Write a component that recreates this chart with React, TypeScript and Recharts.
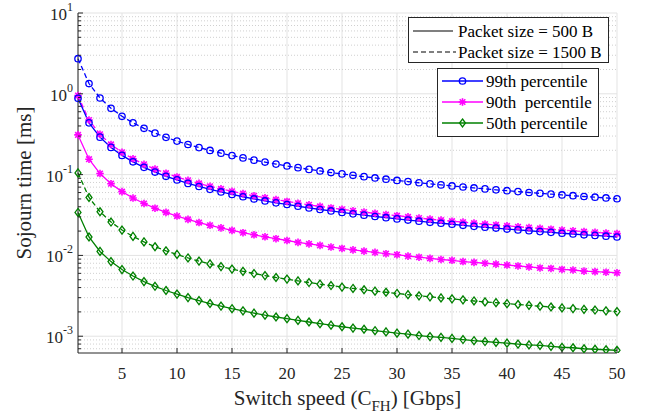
import { CartesianGrid, Legend, Line, LineChart, ReferenceLine, XAxis, YAxis } from "recharts";

const speeds = [
  1, 2, 3, 4, 5, 6, 7, 8, 9, 10, 11, 12, 13, 14, 15, 16, 17, 18, 19, 20, 21, 22, 23, 24, 25,
  26, 27, 28, 29, 30, 31, 32, 33, 34, 35, 36, 37, 38, 39, 40, 41, 42, 43, 44, 45, 46, 47, 48, 49, 50,
];

// 99th percentile, 1500 B
const p99Large = [
  2.72, 1.34, 0.887, 0.662, 0.527, 0.437, 0.374, 0.326, 0.289, 0.26, 0.236, 0.216, 0.199, 0.184,
  0.172, 0.161, 0.151, 0.143, 0.135, 0.128, 0.122, 0.116, 0.111, 0.106, 0.102, 0.098, 0.0943,
  0.0909, 0.0877, 0.0847, 0.0819, 0.0793, 0.0768, 0.0746, 0.0724, 0.0703, 0.0684, 0.0666, 0.0648,
  0.0632, 0.0616, 0.0601, 0.0587, 0.0573, 0.056, 0.0548, 0.0536, 0.0525, 0.0514, 0.0503,
];
// 99th percentile, 500 B
const p99Small = [
  0.88, 0.437, 0.291, 0.217, 0.173, 0.144, 0.123, 0.1075, 0.0953, 0.086, 0.0779, 0.0713, 0.0657,
  0.061, 0.0568, 0.0532, 0.05, 0.0472, 0.0447, 0.0427, 0.0406, 0.0387, 0.037, 0.0355, 0.034,
  0.0327, 0.0315, 0.0303, 0.0293, 0.0283, 0.0274, 0.0265, 0.0257, 0.025, 0.0243, 0.0236, 0.0229,
  0.0223, 0.0218, 0.0212, 0.0207, 0.0202, 0.0197, 0.0193, 0.0188, 0.0184, 0.018, 0.0177, 0.0173,
  0.0169,
];
// 90th percentile, 1500 B
const p90Large = [
  0.95, 0.474, 0.315, 0.236, 0.189, 0.157, 0.134, 0.117, 0.104, 0.0935, 0.0849, 0.0778, 0.0717,
  0.0666, 0.0621, 0.0582, 0.0547, 0.0517, 0.049, 0.0465, 0.0443, 0.0423, 0.0404, 0.0387, 0.0372,
  0.0357, 0.0344, 0.0332, 0.032, 0.031, 0.03, 0.029, 0.0281, 0.0273, 0.0265, 0.0258, 0.0251,
  0.0244, 0.0238, 0.0232, 0.0226, 0.0221, 0.0216, 0.0211, 0.0206, 0.0202, 0.0197, 0.0193, 0.0189,
  0.0186,
];
// 90th percentile, 500 B
const p90Small = [
  0.31, 0.155, 0.103, 0.0772, 0.0616, 0.0513, 0.0439, 0.0384, 0.0341, 0.0307, 0.0279, 0.0255,
  0.0236, 0.0219, 0.0204, 0.0191, 0.018, 0.017, 0.0161, 0.0153, 0.0145, 0.0139, 0.0133, 0.0127,
  0.0122, 0.0117, 0.0113, 0.0109, 0.0105, 0.0102, 0.0098, 0.0095, 0.0092, 0.0089, 0.0087, 0.0084,
  0.0082, 0.008, 0.0078, 0.0076, 0.0074, 0.0072, 0.007, 0.0069, 0.0067, 0.0066, 0.0064, 0.0063,
  0.0062, 0.0061,
];
// 50th percentile, 1500 B
const p50Large = [
  0.105, 0.0521, 0.0347, 0.0259, 0.0206, 0.0172, 0.0147, 0.0128, 0.0114, 0.0103, 0.0093, 0.0085,
  0.00784, 0.00728, 0.00678, 0.00635, 0.00597, 0.00563, 0.00533, 0.00509, 0.00484, 0.00462,
  0.00441, 0.00424, 0.00406, 0.0039, 0.00376, 0.00361, 0.0035, 0.00338, 0.00327, 0.00316, 0.00307,
  0.00298, 0.0029, 0.00282, 0.00273, 0.00266, 0.0026, 0.00253, 0.00247, 0.00241, 0.00235, 0.0023,
  0.00224, 0.0022, 0.00215, 0.00211, 0.00206, 0.00202,
];
// 50th percentile, 500 B
const p50Small = [
  0.034, 0.0169, 0.0112, 0.00838, 0.00668, 0.00556, 0.00475, 0.00415, 0.00368, 0.00332, 0.00301,
  0.00276, 0.00254, 0.00236, 0.00219, 0.00206, 0.00193, 0.00182, 0.00173, 0.00165, 0.00157,
  0.0015, 0.00143, 0.00137, 0.00131, 0.00126, 0.00122, 0.00117, 0.00113, 0.00109, 0.00106,
  0.00102, 0.00099, 0.00097, 0.00094, 0.00091, 0.00088, 0.00086, 0.00084, 0.00082, 0.0008,
  0.00078, 0.00077, 0.00075, 0.00073, 0.00072, 0.0007, 0.00069, 0.00068, 0.00067,
];

const xTicks = [5, 10, 15, 20, 25, 30, 35, 40, 45, 50];
const decadeTicks = [0.001, 0.01, 0.1, 1, 10];
const minorTicks = [
  0.0007, 0.0008, 0.0009,
  0.002, 0.003, 0.004, 0.005, 0.006, 0.007, 0.008, 0.009,
  0.02, 0.03, 0.04, 0.05, 0.06, 0.07, 0.08, 0.09,
  0.2, 0.3, 0.4, 0.5, 0.6, 0.7, 0.8, 0.9,
  2, 3, 4, 5, 6, 7, 8, 9,
];
const allYTicks = [...minorTicks, ...decadeTicks].sort((a, b) => a - b);

const data = speeds.map((s, i) => ({
  speed: s,
  p99Large: p99Large[i],
  p99Small: p99Small[i],
  p90Large: p90Large[i],
  p90Small: p90Small[i],
  p50Large: p50Large[i],
  p50Small: p50Small[i],
}));

const SERIF = '"Liberation Serif", "Times New Roman", serif';
const AXIS = "#262626";
const BLUE = "#0000ff";
const MAGENTA = "#ff00ff";
const GREEN = "#008000";
const DASH = "5 3";

function circleDot(color: string) {
  return (p: any) => (
    <circle key={`c${p.index}`} cx={p.cx} cy={p.cy} r={3.2} fill="none" stroke={color} strokeWidth={1.3} />
  );
}

function starDot(color: string) {
  return (p: any) => {
    const { cx, cy } = p;
    const r = 3.8;
    const d = 2.8;
    return (
      <g key={`s${p.index}`} stroke={color} strokeWidth={1.6}>
        <line x1={cx - r} x2={cx + r} y1={cy} y2={cy} />
        <line x1={cx} x2={cx} y1={cy - r} y2={cy + r} />
        <line x1={cx - d} x2={cx + d} y1={cy - d} y2={cy + d} />
        <line x1={cx - d} x2={cx + d} y1={cy + d} y2={cy - d} />
      </g>
    );
  };
}

function diamondDot(color: string) {
  return (p: any) => {
    const { cx, cy } = p;
    return (
      <path
        key={`d${p.index}`}
        d={`M${cx},${cy - 4} L${cx + 3},${cy} L${cx},${cy + 4} L${cx - 3},${cy} Z`}
        fill="none"
        stroke={color}
        strokeWidth={1.3}
      />
    );
  };
}

function LeftTick({ x, y, payload }: any) {
  const v = payload.value;
  const major = decadeTicks.includes(v);
  const exp = Math.round(Math.log10(v));
  return (
    <g>
      <line x1={x} x2={x + (major ? 5 : 3)} y1={y} y2={y} stroke={AXIS} />
      {major && (
        <text x={x - 5} y={y + 7} textAnchor="end" fontFamily={SERIF} fontSize={17} fill={AXIS}>
          10<tspan dy={-9} fontSize={12}>{exp}</tspan>
        </text>
      )}
    </g>
  );
}

function RightTick({ x, y, payload }: any) {
  const major = decadeTicks.includes(payload.value);
  return <line x1={x} x2={x - (major ? 5 : 3)} y1={y} y2={y} stroke={AXIS} />;
}

function BottomTick({ x, y, payload }: any) {
  return (
    <g>
      <line x1={x} x2={x} y1={y} y2={y - 5} stroke={AXIS} />
      <text x={x} y={y + 26} textAnchor="middle" fontFamily={SERIF} fontSize={17} fill={AXIS}>
        {payload.value}
      </text>
    </g>
  );
}

function TopTick({ x, y }: any) {
  return <line x1={x} x2={x} y1={y} y2={y + 5} stroke={AXIS} />;
}

function XLabel({ viewBox }: any) {
  const { x, y, width } = viewBox;
  return (
    <text x={x + width / 2} y={y + 52} textAnchor="middle" fontFamily={SERIF} fontSize={21} fill={AXIS}>
      Switch speed (C<tspan dy={6} fontSize={15}>FH</tspan>
      <tspan dy={-6}>) [Gbps]</tspan>
    </text>
  );
}

function YLabel({ viewBox }: any) {
  const { x, y, height } = viewBox;
  return (
    <text
      transform={`translate(${x + 13},${y + height / 2}) rotate(-90)`}
      textAnchor="middle"
      fontFamily={SERIF}
      fontSize={21}
      fill={AXIS}
    >
      Sojourn time [ms]
    </text>
  );
}

function LegendBoxes() {
  const txt = { fontFamily: SERIF, fontSize: 17, fill: "#000" } as const;
  const rows = [
    { label: "99th percentile", color: BLUE, dot: circleDot(BLUE) },
    { label: "90th\u00a0 percentile", color: MAGENTA, dot: starDot(MAGENTA) },
    { label: "50th percentile", color: GREEN, dot: diamondDot(GREEN) },
  ];
  return (
    <svg width={205} height={125} style={{ display: "block" }}>
      <rect x={0.5} y={0.5} width={200} height={45} fill="#fff" stroke={AXIS} />
      <line x1={5} x2={45} y1={14} y2={14} stroke="#000" strokeWidth={1.2} />
      <text x={50} y={20} {...txt}>Packet size = 500 B</text>
      <line x1={5} x2={48} y1={35} y2={35} stroke="#000" strokeWidth={1.2} strokeDasharray={DASH} />
      <text x={50} y={41} {...txt}>Packet size = 1500 B</text>

      <rect x={29.5} y={51.5} width={161} height={68} fill="#fff" stroke={AXIS} />
      {rows.map((r, i) => {
        const cy = 64 + i * 21;
        return (
          <g key={r.label}>
            <line x1={34} x2={75} y1={cy} y2={cy} stroke={r.color} strokeWidth={1.3} />
            {r.dot({ cx: 54.5, cy, index: i })}
            <text x={78} y={cy + 6} {...txt}>{r.label}</text>
          </g>
        );
      })}
    </svg>
  );
}

const series = [
  { key: "p50Small", color: GREEN, dashed: false, dot: diamondDot(GREEN) },
  { key: "p50Large", color: GREEN, dashed: true, dot: diamondDot(GREEN) },
  { key: "p90Small", color: MAGENTA, dashed: false, dot: starDot(MAGENTA) },
  { key: "p90Large", color: MAGENTA, dashed: true, dot: starDot(MAGENTA) },
  { key: "p99Small", color: BLUE, dashed: false, dot: circleDot(BLUE) },
  { key: "p99Large", color: BLUE, dashed: true, dot: circleDot(BLUE) },
];

export default function App() {
  return (
    <div style={{ position: "absolute", left: 0, top: 0, background: "#fff" }}>
      <LineChart width={646} height={414} data={data} margin={{ top: 13, right: 29, left: 18, bottom: 0 }}>
        <CartesianGrid xAxisId="bottom" yAxisId="left" horizontal={false} stroke="#e3e3e3" />
        {minorTicks.map((v) => (
          <ReferenceLine
            key={`m${v}`}
            xAxisId="bottom"
            yAxisId="left"
            y={v}
            stroke="#d0d0d0"
            strokeDasharray="1 2"
          />
        ))}
        {decadeTicks.map((v) => (
          <ReferenceLine key={`g${v}`} xAxisId="bottom" yAxisId="left" y={v} stroke="#e3e3e3" />
        ))}
        <XAxis
          xAxisId="bottom"
          dataKey="speed"
          type="number"
          domain={[1, 50]}
          ticks={xTicks}
          interval={0}
          height={61}
          tickSize={0}
          tickMargin={0}
          tickLine={false}
          axisLine={{ stroke: AXIS }}
          tick={<BottomTick />}
          label={{ content: <XLabel /> }}
        />
        <XAxis
          xAxisId="top"
          orientation="top"
          dataKey="speed"
          type="number"
          domain={[1, 50]}
          ticks={xTicks}
          interval={0}
          height={0}
          tickSize={0}
          tickMargin={0}
          tickLine={false}
          axisLine={{ stroke: AXIS }}
          tick={<TopTick />}
        />
        <YAxis
          yAxisId="left"
          scale="log"
          type="number"
          domain={[0.00062, 10]}
          allowDataOverflow
          ticks={allYTicks}
          interval={0}
          width={60}
          tickSize={0}
          tickMargin={0}
          tickLine={false}
          axisLine={{ stroke: AXIS }}
          tick={<LeftTick />}
          label={{ content: <YLabel /> }}
        />
        <YAxis
          yAxisId="right"
          orientation="right"
          scale="log"
          type="number"
          domain={[0.00062, 10]}
          allowDataOverflow
          ticks={allYTicks}
          interval={0}
          width={0}
          tickSize={0}
          tickMargin={0}
          tickLine={false}
          axisLine={{ stroke: AXIS }}
          tick={<RightTick />}
        />
        {series.map((s) => (
          <Line
            key={s.key}
            xAxisId="bottom"
            yAxisId="left"
            type="linear"
            dataKey={s.key}
            stroke={s.color}
            strokeWidth={1.3}
            strokeDasharray={s.dashed ? DASH : undefined}
            dot={s.dot}
            activeDot={false}
            isAnimationActive={false}
          />
        ))}
        <Legend
          layout="horizontal"
          verticalAlign="middle"
          align="center"
          content={<LegendBoxes />}
          wrapperStyle={{ position: "absolute", left: 408, top: 17, width: 205, height: 125 }}
        />
      </LineChart>
    </div>
  );
}
